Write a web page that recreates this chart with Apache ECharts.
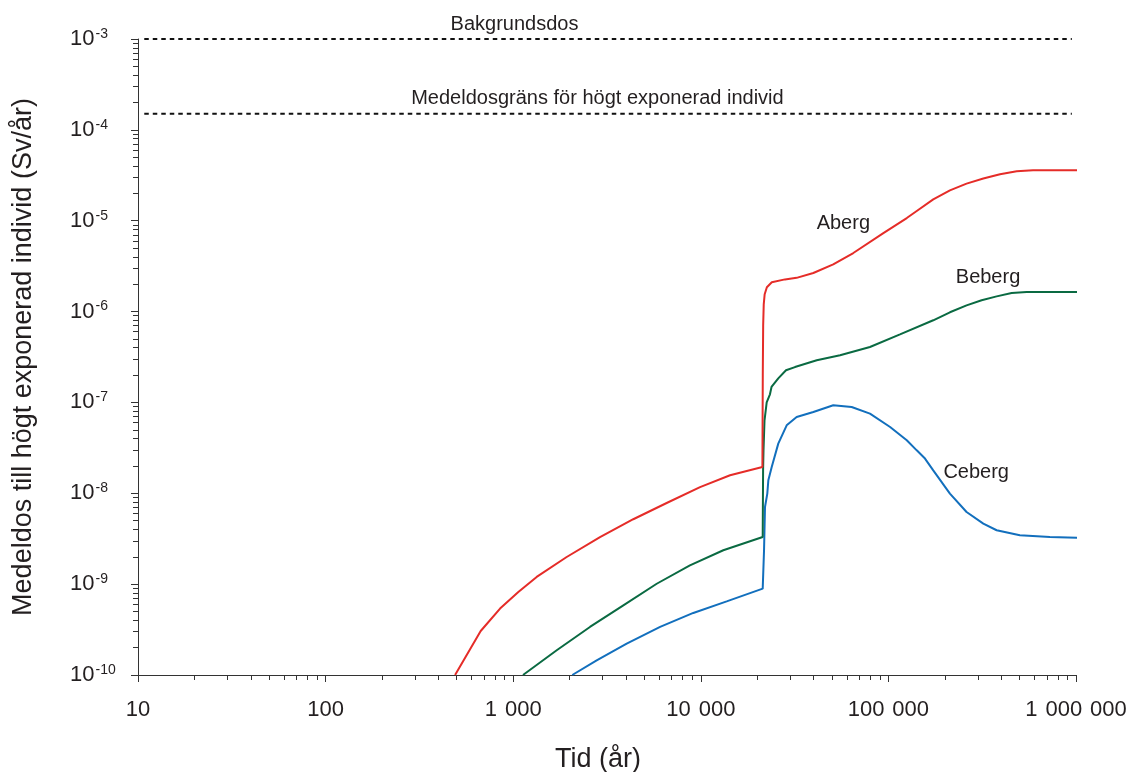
<!DOCTYPE html>
<html>
<head>
<meta charset="utf-8">
<script src="https://cdn.jsdelivr.net/npm/echarts@6/dist/echarts.min.js"></script>
<style>
html,body{margin:0;padding:0;background:#fff;}
#chart{width:1134px;height:772px;}
</style>
</head>
<body>
<div id="chart"></div>
<script>
// ---- Data ----
var xMajorTicks = [10, 100, 1000, 10000, 100000, 1000000];
var yMajorTicks = [1e-10, 1e-9, 1e-8, 1e-7, 1e-6, 1e-5, 1e-4, 1e-3];

var timeA = [490, 671, 851, 1065, 1334, 1928, 2902, 4366, 6577, 9908, 14320, 21300, 21400, 21500, 21650, 21900, 22500, 23900, 28100, 32400, 39800, 50800, 65000, 94000, 125300, 141600, 173400, 212800, 261000, 320600, 393500, 483000, 590000, 1076000];
var doseA = [1e-10, 3.05e-10, 5.38e-10, 8.2e-10, 1.2e-9, 1.99e-9, 3.3e-9, 5.18e-9, 7.82e-9, 1.17e-8, 1.58e-8, 1.95e-8, 2.0e-7, 7e-7, 1.2e-6, 1.55e-6, 1.85e-6, 2.1e-6, 2.26e-6, 2.35e-6, 2.66e-6, 3.31e-6, 4.41e-6, 7.3e-6, 1.07e-5, 1.28e-5, 1.72e-5, 2.16e-5, 2.56e-5, 2.91e-5, 3.24e-5, 3.5e-5, 3.59e-5, 3.59e-5];

var timeB = [1128, 1706, 2565, 3864, 5821, 8750, 13180, 21380, 21480, 21590, 21860, 22450, 23370, 23820, 25880, 28450, 31770, 41500, 55250, 79750, 115300, 173400, 212800, 261000, 314000, 377600, 453900, 545500, 666800, 1076000];
var doseB = [1e-10, 1.87e-10, 3.38e-10, 5.85e-10, 1.01e-9, 1.61e-9, 2.36e-9, 3.3e-9, 1.79e-8, 2.97e-8, 6.36e-8, 1.0e-7, 1.23e-7, 1.48e-7, 1.84e-7, 2.26e-7, 2.45e-7, 2.91e-7, 3.3e-7, 4.07e-7, 5.6e-7, 8.02e-7, 9.82e-7, 1.17e-6, 1.33e-6, 1.47e-6, 1.6e-6, 1.64e-6, 1.64e-6, 1.64e-6];

var timeC = [2065, 2786, 4027, 6069, 9120, 13740, 21380, 21730, 21990, 22620, 22910, 23880, 25880, 28690, 32430, 39810, 50830, 63700, 79750, 102100, 125300, 141600, 156700, 173400, 212800, 261000, 320600, 377600, 502000, 726000, 1076000];
var doseC = [1e-10, 1.45e-10, 2.22e-10, 3.38e-10, 4.82e-10, 6.47e-10, 8.93e-10, 2.36e-9, 7.06e-9, 9.93e-9, 1.39e-8, 1.95e-8, 3.52e-8, 5.6e-8, 6.92e-8, 7.85e-8, 9.3e-8, 8.91e-8, 7.53e-8, 5.37e-8, 3.83e-8, 2.97e-8, 2.41e-8, 1.79e-8, 9.93e-9, 6.22e-9, 4.64e-9, 3.92e-9, 3.45e-9, 3.3e-9, 3.22e-9];

var backgroundDose = 1e-3;
var doseLimit = 1.5e-4;
var refLineTime = [10.8, 950000];

var seriesNames = ['Aberg', 'Beberg', 'Ceberg'];
var labelTime = [57500, 339700, 293700];
var labelDose = [9.4e-6, 2.4e-6, 1.68e-8];

var refNames = ['Bakgrundsdos', 'Medeldosgräns för högt exponerad individ'];
var refLabelTime = [1016, 2812];

// minor tick values (2..9 within each decade)
function minorValues(kFrom, kTo) {
  var out = [];
  for (var k = kFrom; k < kTo; k++) {
    for (var m = 2; m <= 9; m++) out.push(parseFloat((m * Math.pow(10, k)).toPrecision(6)));
  }
  return out;
}
var xMinorTicks = minorValues(1, 6);
var yMinorTicks = minorValues(-10, -3);

// ---- Chart ----
var FONT = '"Liberation Sans", Arial, Helvetica, sans-serif';
var TEXT = '#231f20';
var AXIS = '#333333';
var colors = ['#e52c28', '#0a6a42', '#126fbd'];

function zip(xs, ys) { return xs.map(function (x, i) { return [x, ys[i]]; }); }
function fmtX(v) {
  return String(Math.round(v)).replace(/\B(?=(\d{3})+(?!\d))/g, ' \u200A');
}
function fmtY(v) {
  var e = Math.round(Math.log10(v));
  return '{b|10}{s|' + e + '}';
}

var chart = echarts.init(document.getElementById('chart'), null, {renderer: 'canvas'});

var curveSeries = seriesNames.map(function (name, i) {
  var t = [timeA, timeB, timeC][i];
  var d = [doseA, doseB, doseC][i];
  return {
    name: name,
    type: 'line',
    xAxisIndex: 0, yAxisIndex: 0,
    data: zip(t, d),
    showSymbol: false,
    symbol: 'none',
    clip: false,
    smooth: false,
    lineStyle: {color: colors[i], width: 2},
    z: 3 - i,
    markPoint: {
      symbol: 'circle', symbolSize: 0, silent: true,
      label: {show: true, position: 'inside', formatter: name, color: TEXT, fontSize: 20, fontFamily: FONT},
      data: [{coord: [labelTime[i], labelDose[i]]}]
    }
  };
});

var refSeries = [backgroundDose, doseLimit].map(function (val, i) {
  return {
    name: refNames[i],
    type: 'line',
    xAxisIndex: 0, yAxisIndex: 0,
    data: refLineTime.map(function (t) { return [t, val]; }),
    showSymbol: false,
    symbol: 'none',
    clip: false,
    lineStyle: {color: '#111', width: 2, type: [4.5, 4]},
    markPoint: {
      symbol: 'circle', symbolSize: 0, silent: true,
      label: {show: true, position: 'inside', offset: [0, -15], formatter: refNames[i], color: TEXT, fontSize: 20, fontFamily: FONT},
      data: [{coord: [refLabelTime[i], val]}]
    }
  };
});

var option = {
  animation: false,
  backgroundColor: '#fff',
  grid: {left: 138, right: 58, top: 39, bottom: 97, containLabel: false, outerBoundsMode: 'none'},
  xAxis: [{
    type: 'log', logBase: 10, min: 10, max: 1e6,
    position: 'bottom',
    name: 'Tid (år)', nameLocation: 'middle', nameGap: 71,
    nameTextStyle: {fontSize: 27, color: TEXT, fontFamily: FONT, padding: [0, 18, 0, 0]},
    axisLine: {show: true, lineStyle: {color: AXIS, width: 1}},
    axisTick: {show: true, length: 7, lineStyle: {color: AXIS, width: 1}, customValues: xMajorTicks},
    axisLabel: {show: true, customValues: xMajorTicks, formatter: fmtX, margin: 24, fontSize: 22, color: TEXT, fontFamily: FONT},
    splitLine: {show: false}, minorTick: {show: false}
  }, {
    type: 'log', logBase: 10, min: 10, max: 1e6,
    position: 'bottom', offset: 0,
    axisLine: {show: false},
    axisTick: {show: true, length: 5, lineStyle: {color: AXIS, width: 1}, customValues: xMinorTicks},
    axisLabel: {show: false},
    splitLine: {show: false}
  }],
  yAxis: [{
    type: 'log', logBase: 10, min: 1e-10, max: 1e-3,
    position: 'left',
    name: 'Medeldos till högt exponerad individ (Sv/år)', nameLocation: 'middle', nameGap: 101,
    nameTextStyle: {fontSize: 27, color: TEXT, fontFamily: FONT},
    axisLine: {show: true, lineStyle: {color: AXIS, width: 1}},
    axisTick: {show: true, length: 7, lineStyle: {color: AXIS, width: 1}, customValues: yMajorTicks},
    axisLabel: {
      show: true, customValues: yMajorTicks, formatter: fmtY, align: 'left', margin: 68,
      color: TEXT, fontFamily: FONT,
      rich: {
        b: {fontSize: 22, fontFamily: FONT, color: TEXT, lineHeight: 24},
        s: {fontSize: 14, fontFamily: FONT, color: TEXT, verticalAlign: 'top', lineHeight: 14, padding: [0, 0, 0, 1]}
      }
    },
    splitLine: {show: false}, minorTick: {show: false}
  }, {
    type: 'log', logBase: 10, min: 1e-10, max: 1e-3,
    position: 'left', offset: 0,
    axisLine: {show: false},
    axisTick: {show: true, length: 5, lineStyle: {color: AXIS, width: 1}, customValues: yMinorTicks},
    axisLabel: {show: false},
    splitLine: {show: false}
  }],
  series: refSeries.concat(curveSeries)
};

chart.setOption(option);
</script>
</body>
</html>
